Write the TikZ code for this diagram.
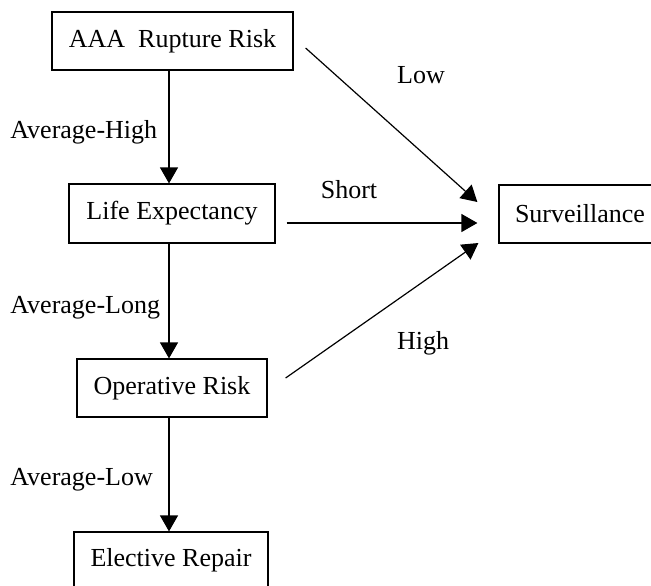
\documentclass[tikz,border=0pt]{standalone}
\usepackage{fontspec}
\setmainfont{Liberation Serif}
\usepackage{tikz}
\usetikzlibrary{
    arrows.meta,
    calc
}

\tikzset{
    box/.style={draw, line width=0.6pt, font=\fontsize{13}{15}\selectfont,
        minimum height=29pt, inner sep=0pt},
    lbl/.style={font=\fontsize{13}{15}\selectfont, inner sep=0pt},
    arr/.style={-{Triangle[length=8pt,width=9pt]}, line width=0.6pt}
}

\begin{document}
\begin{tikzpicture}[x=0.5pt,y=-0.5pt]
\path[use as bounding box, clip] (0,0) rectangle (651,585);

\node[box, minimum width=120.5pt] (rupture) at (172.5,41) {AAA\ \ Rupture Risk};
\node[box, minimum width=103pt, minimum height=29.5pt] (life) at (172,213.5) {Life Expectancy};
\node[box, minimum width=95pt] (operative) at (172,388) {Operative Risk};
\node[box, minimum width=97pt, minimum height=28pt] (elective) at (171,560) {Elective Repair};
\node[box, minimum width=81pt] (surveil) at (580,214) {Surveillance};

\draw[arr] ($(rupture.south)+(-3.5,0)$) -- ($(life.north)+(-3,0)$);
\draw[arr] ($(life.south)+(-3,0)$) -- ($(operative.north)+(-3,0)$);
\draw[arr] ($(operative.south)+(-3,0)$) -- ($(elective.north)+(-2,0)$);

\draw[arr] ($(rupture.east)+(12,7)$) -- ($(surveil.west)+(-21,-12)$);
\draw[arr] ($(life.east)+(11,9.5)$) -- ($(surveil.west)+(-21,9)$);
\draw[arr] ($(operative.east)+(18,-10)$) -- ($(surveil.west)+(-20,29)$);

\node[lbl, anchor=west] (avghigh) at (10,132) {Average-High};
\node[lbl, anchor=west] (avglong) at (10,308) {Average-Long};
\node[lbl, anchor=west] (avglow) at (10,480) {Average-Low};
\node[lbl] (low) at (421,75) {Low};
\node[lbl] (short) at (349,190) {Short};
\node[lbl] (high) at (423,343) {High};
\end{tikzpicture}
\end{document}
